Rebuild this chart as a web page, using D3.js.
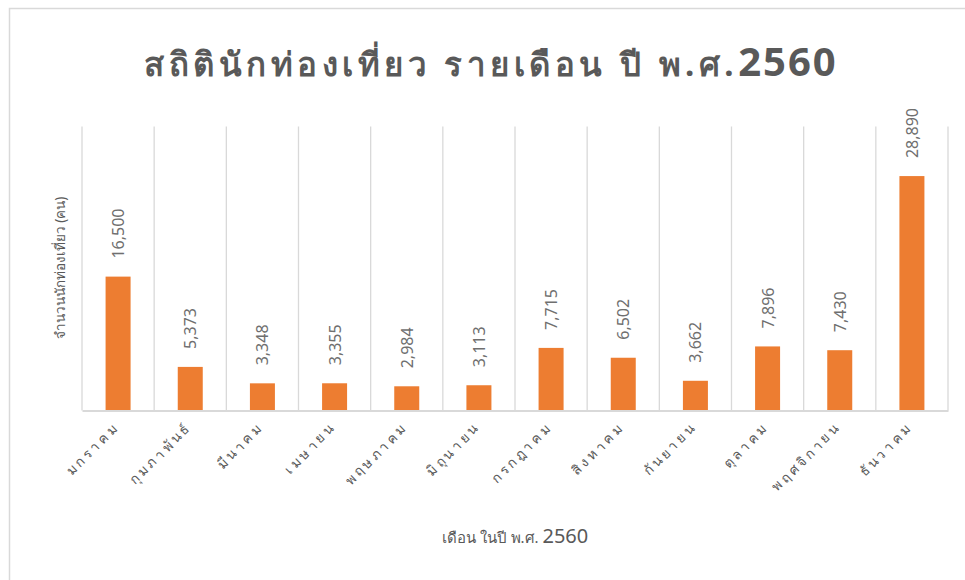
<!DOCTYPE html>
<html><head><meta charset="utf-8">
<script src="https://cdn.jsdelivr.net/npm/d3@7"></script>
<style>body{margin:0;background:#fff}svg{display:block}</style>
</head><body>
<svg id="c" width="965" height="580"></svg>
<script>
const months = ["มกราคม","กุมภาพันธ์","มีนาคม","เมษายน","พฤษภาคม","มิถุนายน","กรกฎาคม","สิงหาคม","กันยายน","ตุลาคม","พฤศจิกายน","ธันวาคม"];
const visitors = [16500,5373,3348,3355,2984,3113,7715,6502,3662,7896,7430,28890];
const yDomain = [0, 35000];
const titleText = "สถิตินักท่องเที่ยว รายเดือน ปี พ.ศ.";
const titleYear = "2560";
const yLabel = "จำนวนนักท่องเที่ยว (คน)";
const xLabel = "เดือน ในปี พ.ศ. ";
const xLabelYear = "2560";

const svg = d3.select("#c");
const font = "'Noto Sans', 'DejaVu Sans', sans-serif";
const grey = "#595959";
const m = {left:82, right:948, top:126.5, bottom:410.5};

svg.append("rect").attr("x",9.5).attr("y",8.5).attr("width",1000).attr("height",1000)
  .attr("fill","#fff").attr("stroke","#d9d9d9").attr("stroke-width",1.5);

const x = d3.scaleBand().domain(months).range([m.left, m.right]).paddingInner(0).paddingOuter(0);
const y = d3.scaleLinear().domain(yDomain).range([m.bottom, m.top]);

// vertical gridlines at category boundaries
const bounds = months.map(d => x(d)).concat([m.right]);
svg.append("g").selectAll("line").data(bounds).join("line")
  .attr("x1", d=>d).attr("x2", d=>d).attr("y1", m.top).attr("y2", m.bottom)
  .attr("stroke","#d9d9d9").attr("stroke-width",1.3);

const bw = 25;
svg.append("g").selectAll("rect").data(visitors).join("rect")
  .attr("x",(d,i)=>x(months[i]) + x.bandwidth()/2 - bw/2)
  .attr("y", d=>y(d)).attr("width", bw).attr("height", d=>m.bottom - y(d))
  .attr("fill","#ED7D31");

// axis line
const xAxis = d3.axisBottom(x).tickSize(0).tickFormat("");
const ax = svg.append("g").attr("transform",`translate(0,${m.bottom})`).call(xAxis);
ax.select(".domain").attr("stroke","#d9d9d9").attr("stroke-width",2);

// category labels
svg.append("g").selectAll("text").data(months).join("text")
  .attr("transform", d=>`translate(${x(d)+x.bandwidth()/2+2},${428}) rotate(-45)`)
  .attr("text-anchor","end").attr("font-family",font).attr("font-size",13.5)
  .attr("letter-spacing","3px").attr("fill",grey).text(d=>d);

// value labels
const fmt = d3.format(",");
svg.append("g").selectAll("text").data(visitors).join("text")
  .attr("transform",(d,i)=>`translate(${x(months[i])+x.bandwidth()/2+6},${y(d)-18}) rotate(-90)`)
  .attr("text-anchor","start").attr("font-family",font).attr("font-size",16)
  .attr("fill","#6f6f6f").text(d=>fmt(d));

// title
const t = svg.append("text").attr("x",491).attr("y",76).attr("text-anchor","middle")
  .attr("font-family",font).attr("fill",grey);
t.append("tspan").attr("font-size",33).attr("font-weight","bold").attr("letter-spacing","4.5px").text(titleText);
t.append("tspan").attr("font-size",40).attr("font-weight","bold").attr("letter-spacing","2px").text(titleYear);

// y label
svg.append("text").attr("transform","translate(65,268) rotate(-90)").attr("text-anchor","middle")
  .attr("font-family",font).attr("font-size",13.5).attr("fill",grey).text(yLabel);

// x label
const xl = svg.append("text").attr("x",515).attr("y",543).attr("text-anchor","middle")
  .attr("font-family",font).attr("fill",grey);
xl.append("tspan").attr("font-size",15).text(xLabel);
xl.append("tspan").attr("font-size",20).text(xLabelYear);
</script>
</body></html>
